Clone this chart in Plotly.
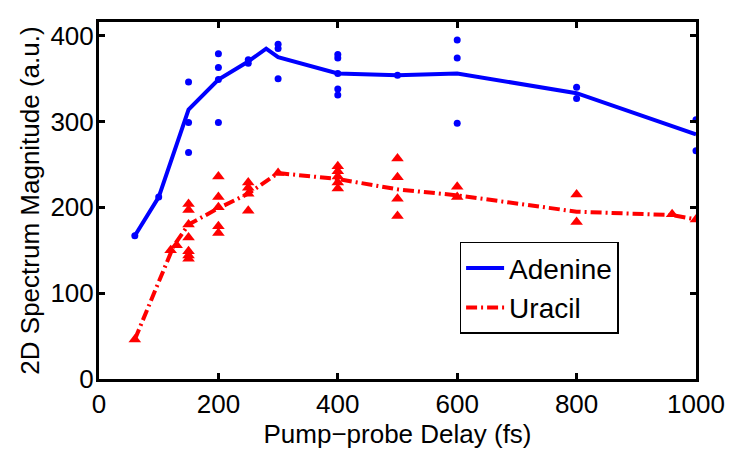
import plotly.graph_objects as go

# Mean curves
aden_x = [60, 100, 150, 200, 250, 280, 300, 400, 500, 600, 800, 1000]
aden_y = [167, 212, 314, 349, 370, 385, 375, 356, 354, 356, 333, 285]
ura_x = [60, 125, 150, 200, 250, 300, 400, 500, 600, 800, 960, 1000]
ura_y = [46, 155, 180, 199, 216, 240, 233, 221, 214, 195, 191, 186]

# Individual measurements
aden_pts_x = [60, 100, 150, 150, 150, 200, 200, 200, 200, 250, 250, 300, 300, 300,
              400, 400, 400, 400, 400, 500, 600, 600, 600, 800, 800, 1000, 1000]
aden_pts_y = [167, 212, 346, 299, 264, 379, 363, 349, 299, 372, 368, 390, 385, 350,
              378, 374, 356, 338, 331, 354, 395, 374, 298, 340, 327, 302, 266]
ura_pts_x = [60, 120, 130, 150, 150, 150, 150, 150, 150, 150, 200, 200, 200, 200, 200,
             250, 250, 250, 250, 300, 400, 400, 400, 400, 400, 500, 500, 500, 500,
             600, 600, 800, 800, 960, 1000]
ura_pts_y = [46, 150, 156, 204, 197, 180, 165, 149, 144, 140, 236, 212, 200, 178, 170,
             229, 223, 216, 196, 240, 248, 242, 236, 229, 222, 257, 235, 210, 190,
             224, 212, 215, 183, 192, 186]

x_ticks = [0, 200, 400, 600, 800, 1000]
y_ticks = [0, 100, 200, 300, 400]

BLUE = "#0000ff"
RED = "#ff0000"
FONT = "Liberation Sans, Arial, sans-serif"

fig = go.Figure()
fig.add_trace(go.Scatter(x=aden_x, y=aden_y, mode="lines", name="Adenine",
                         line=dict(color=BLUE, width=4)))
fig.add_trace(go.Scatter(x=ura_x, y=ura_y, mode="lines", name="Uracil",
                         line=dict(color=RED, width=4, dash="11px,4px,2px,4px")))
fig.add_trace(go.Scatter(x=aden_pts_x, y=aden_pts_y, mode="markers", showlegend=False,
                         marker=dict(color=BLUE, size=7, symbol="circle")))
fig.add_trace(go.Scatter(x=ura_pts_x, y=ura_pts_y, mode="markers", showlegend=False,
                         marker=dict(color=RED, size=11, symbol="triangle-up")))

axis_common = dict(showgrid=False, zeroline=False, showline=True, linecolor="black",
                   linewidth=3, mirror="ticks", ticks="inside", ticklen=6,
                   tickwidth=3, tickcolor="black",
                   tickfont=dict(family=FONT, size=26, color="black"))

fig.update_xaxes(range=[0, 1000], tickvals=x_ticks, ticktext=[str(v) for v in x_ticks],
                 ticklabelstandoff=0,
                 title=dict(text="Pump\u2212probe Delay (fs)", standoff=2,
                            font=dict(family=FONT, size=26, color="black")),
                 **axis_common)
fig.update_yaxes(range=[0, 416], tickvals=y_ticks, ticktext=[str(v) for v in y_ticks],
                 ticklabelstandoff=-3,
                 title=dict(text="2D Spectrum Magnitude (a.u.)", standoff=4,
                            font=dict(family=FONT, size=26, color="black")),
                 **axis_common)

fig.update_layout(
    width=737, height=451,
    margin=dict(l=99, r=35, t=22, b=64),
    paper_bgcolor="white", plot_bgcolor="white",
    font=dict(family=FONT, color="black"),
    legend=dict(x=0.604, y=0.384, xanchor="left", yanchor="top",
                bgcolor="white", bordercolor="black", borderwidth=1.5,
                font=dict(family=FONT, size=28, color="black"),
                itemwidth=38, tracegroupgap=0),
)

fig.write_html("out.html")
